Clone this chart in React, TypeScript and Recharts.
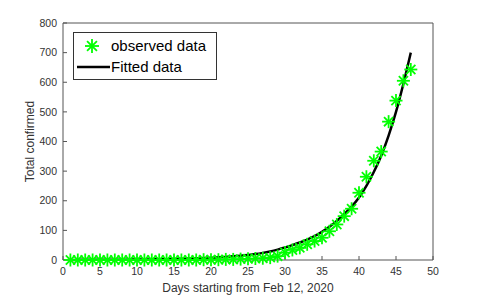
import { ComposedChart, Line, Scatter, XAxis, YAxis, Legend } from 'recharts';

// days since Feb 12, 2020
const days = [
  1, 2, 3, 4, 5, 6, 7, 8, 9, 10, 11, 12, 13, 14, 15, 16, 17, 18, 19, 20, 21, 22, 23, 24,
  25, 26, 27, 28, 29, 30, 31, 32, 33, 34, 35, 36, 37, 38, 39, 40, 41, 42, 43, 44, 45, 46, 47,
];

const observed = [
  0, 0, 0, 0, 0, 0, 0, 0, 0, 0, 0, 0, 0, 0, 0, 0, 0, 0, 1, 1, 1, 2, 2, 3,
  4, 5, 6, 8, 13, 25, 34, 41, 53, 64, 75, 97, 120, 148, 173, 227, 281, 335, 366, 467, 538, 605, 643,
];

const fitted = [
  0.3, 0.4, 0.5, 0.6, 0.7, 0.8, 0.9, 1.1, 1.3, 1.5, 1.8, 2.1, 2.5, 2.9, 3.4, 4, 4.7, 5.5, 6.5, 7.6, 8.9, 10.5, 12.3, 14.5,
  17, 20, 24, 29, 35, 42, 50, 59, 69, 81, 95, 112, 132, 155, 180, 211, 250, 297, 352, 420, 500, 595, 700,
];

const xTicks = [0, 5, 10, 15, 20, 25, 30, 35, 40, 45, 50];
const yTicks = [0, 100, 200, 300, 400, 500, 600, 700, 800];

const data = days.map((day, i) => ({ day, observed: observed[i], fitted: fitted[i] }));

const AXIS = '#555';
const TEXT = '#333';
const GREEN = '#00ff00';
const FONT = '"Liberation Sans", Arial, sans-serif';

function Asterisk({ cx, cy, r = 6.5 }: { cx: number; cy: number; r?: number }) {
  const d = r * 0.707;
  return (
    <g stroke={GREEN} strokeWidth={1.8}>
      <line x1={cx - r} y1={cy} x2={cx + r} y2={cy} />
      <line x1={cx} y1={cy - r} x2={cx} y2={cy + r} />
      <line x1={cx - d} y1={cy - d} x2={cx + d} y2={cy + d} />
      <line x1={cx - d} y1={cy + d} x2={cx + d} y2={cy - d} />
    </g>
  );
}

function LegendBox() {
  return (
    <svg width={144} height={48} style={{ display: 'block' }}>
      <rect x={0.5} y={0.5} width={143} height={47} fill="#fff" stroke="#333" />
      <Asterisk cx={19} cy={14} r={7} />
      <line x1={4} y1={35} x2={37} y2={35} stroke="#000" strokeWidth={2.5} />
      <text x={38} y={19} fontSize={15} fontFamily={FONT} fill="#000">observed data</text>
      <text x={38} y={40} fontSize={15} fontFamily={FONT} fill="#000">Fitted data</text>
    </svg>
  );
}

export default function App() {
  return (
    <div style={{ position: 'absolute', left: 0, top: 0, width: 480, height: 295, background: '#fff' }}>
      <ComposedChart
        width={480}
        height={295}
        data={data}
        margin={{ top: 22, right: 46, bottom: 0, left: 0 }}
      >
        <XAxis
          type="number"
          dataKey="day"
          domain={[0, 50]}
          ticks={xTicks}
          interval={0}
          tickSize={-4}
          tickMargin={12}
          height={35}
          stroke={AXIS}
          tick={{ fill: TEXT, fontSize: 10.5, fontFamily: FONT }}
          label={({ viewBox }: any) => (
            <text
              x={viewBox.x + viewBox.width / 2}
              y={292}
              textAnchor="middle"
              fontSize={12}
              fontFamily={FONT}
              fill={TEXT}
            >
              Days starting from Feb 12, 2020
            </text>
          )}
        />
        <XAxis
          xAxisId="top"
          orientation="top"
          type="number"
          dataKey="day"
          domain={[0, 50]}
          ticks={xTicks}
          interval={0}
          tick={false}
          tickSize={-4}
          height={1}
          stroke={AXIS}
        />
        <YAxis
          type="number"
          domain={[0, 800]}
          ticks={yTicks}
          interval={0}
          tickSize={-4}
          tickMargin={10}
          width={63}
          stroke={AXIS}
          tick={{ fill: TEXT, fontSize: 10.5, fontFamily: FONT }}
          label={({ viewBox }: any) => {
            const cx = 30;
            const cy = viewBox.y + viewBox.height / 2;
            return (
              <text
                x={cx}
                y={cy}
                transform={`rotate(-90, ${cx}, ${cy})`}
                textAnchor="middle"
                dominantBaseline="central"
                fontSize={12}
                fontFamily={FONT}
                fill={TEXT}
              >
                Total confirmed
              </text>
            );
          }}
        />
        <YAxis
          yAxisId="right"
          orientation="right"
          type="number"
          domain={[0, 800]}
          ticks={yTicks}
          interval={0}
          tick={false}
          tickSize={-4}
          width={1}
          stroke={AXIS}
        />
        <Legend
          layout="horizontal"
          verticalAlign="middle"
          align="center"
          content={() => <LegendBox />}
          wrapperStyle={{ left: 73, top: 32, width: 'auto', height: 'auto' }}
        />
        <Scatter
          dataKey="observed"
          isAnimationActive={false}
          shape={(p: any) => <Asterisk cx={p.cx} cy={p.cy} />}
        />
        <Line
          type="monotone"
          dataKey="fitted"
          stroke="#000"
          strokeWidth={2.5}
          dot={false}
          activeDot={false}
          isAnimationActive={false}
        />
      </ComposedChart>
    </div>
  );
}
